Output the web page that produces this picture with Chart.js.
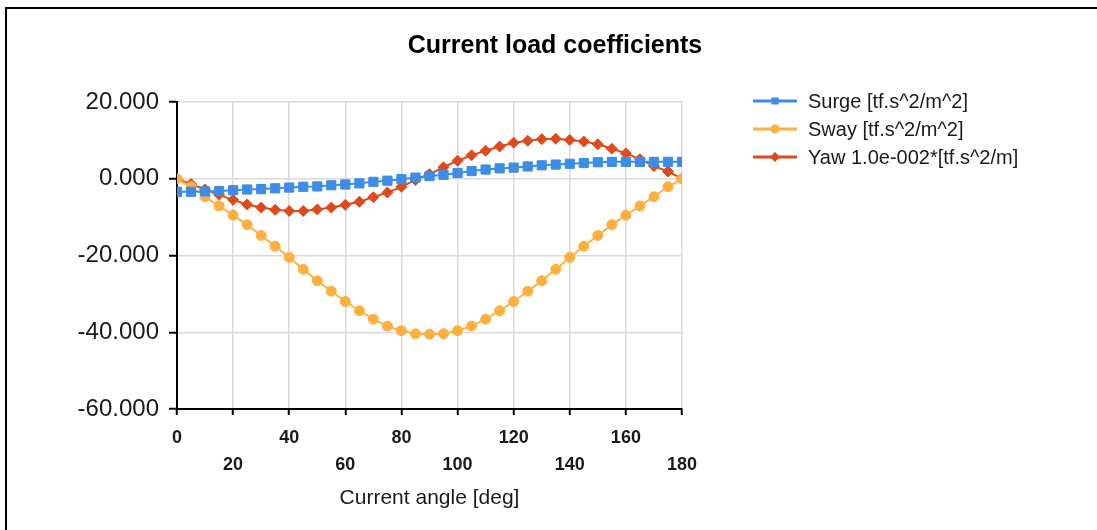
<!DOCTYPE html>
<html>
<head>
<meta charset="utf-8">
<script src="https://cdn.jsdelivr.net/npm/chart.js@4.4.0/dist/chart.umd.min.js"></script>
<style>
   html, body { margin: 0; padding: 0; background: #fff; overflow: hidden; }
   .wrap { position: relative; width: 1097px; height: 530px; }
   .frame { position: absolute; left: 5px; top: 7px; width: 1200px; height: 700px; border: 2px solid #000; box-sizing: border-box; pointer-events: none; }
   canvas { position: absolute; left: 0; top: 0; }
</style>
</head>
<body>
<div class="wrap">
   <canvas id="coef-chart" width="1097" height="530"></canvas>
   <div class="frame"></div>
</div>
<script>
// angles, deg
const angles = [0, 5, 10, 15, 20, 25, 30, 35, 40, 45, 50, 55, 60, 65, 70, 75, 80, 85, 90,
   95, 100, 105, 110, 115, 120, 125, 130, 135, 140, 145, 150, 155, 160, 165, 170, 175, 180];

// Surge [tf.s^2/m^2]
const surge = [-3.4, -3.4, -3.3, -3.2, -3.0, -2.8, -2.7, -2.5, -2.3, -2.1, -2.0, -1.7, -1.5, -1.2, -0.8, -0.5, -0.1, 0.3, 0.7,
   1.0, 1.5, 2.0, 2.4, 2.7, 2.9, 3.2, 3.5, 3.7, 3.9, 4.1, 4.3, 4.4, 4.4, 4.4, 4.4, 4.4, 4.4];

// Sway [tf.s^2/m^2]
const sway = [0, -2.1, -4.7, -7.1, -9.5, -12.0, -14.8, -17.6, -20.5, -23.6, -26.6, -29.3, -32.0, -34.4, -36.6, -38.4, -39.6, -40.4, -40.5,
   -40.4, -39.6, -38.4, -36.6, -34.4, -32.0, -29.3, -26.6, -23.6, -20.5, -17.6, -14.8, -12.0, -9.5, -7.1, -4.7, -2.1, 0];

// Yaw 1.0e-002*[tf.s^2/m]
const yaw = [0, -1.4, -2.8, -4.2, -5.5, -6.7, -7.5, -8.1, -8.4, -8.4, -8.0, -7.5, -6.8, -6.0, -4.8, -3.6, -2.1, -0.3, 1.2,
   3.0, 4.7, 6.1, 7.3, 8.4, 9.4, 9.9, 10.3, 10.4, 10.1, 9.7, 9.0, 7.8, 6.6, 5.1, 3.3, 1.9, 0];

const seriesNames = ['Surge [tf.s^2/m^2]', 'Sway [tf.s^2/m^2]', 'Yaw 1.0e-002*[tf.s^2/m]'];
const xTicks = [0, 20, 40, 60, 80, 100, 120, 140, 160, 180];
const yTicks = [20, 0, -20, -40, -60];

const FONT = "'Liberation Sans', Arial, sans-serif";

function toPoints(values) {
   return values.map((v, i) => ({ x: angles[i], y: v }));
}

// title + legend drawn by hand
const extras = {
   id: 'extras',
   afterDraw(chart) {
      const ctx = chart.ctx;
      ctx.save();
      ctx.fillStyle = '#000';
      ctx.font = 'bold 25px ' + FONT;
      ctx.textAlign = 'center';
      ctx.textBaseline = 'middle';
      ctx.fillText('Current load coefficients', 555, 46);

      ctx.font = '20px ' + FONT;
      ctx.textAlign = 'left';
      chart.data.datasets.forEach((ds, i) => {
         const y = 101 + i * 28;
         ctx.strokeStyle = ds.borderColor;
         ctx.lineWidth = 3;
         ctx.beginPath();
         ctx.moveTo(753, y);
         ctx.lineTo(797, y);
         ctx.stroke();
         Chart.helpers.drawPoint(ctx, {
            pointStyle: ds.pointStyle,
            radius: 3,
            borderWidth: 1,
            rotation: 0
         }, 775, y);
         ctx.fillStyle = ds.borderColor;
         ctx.fill();
         ctx.fillStyle = '#1a1a1a';
         ctx.fillText(seriesNames[i], 808, y + 1);
      });
      ctx.restore();
   }
};

const ctx = document.getElementById('coef-chart').getContext('2d');

new Chart(ctx, {
   type: 'line',
   data: {
      datasets: [
         {
            label: seriesNames[0],
            data: toPoints(surge),
            borderColor: '#3d8de8',
            backgroundColor: '#3d8de8',
            borderWidth: 2,
            pointStyle: 'rect',
            pointRadius: 6.5,
            pointBorderWidth: 1,
         },
         {
            label: seriesNames[1],
            data: toPoints(sway),
            borderColor: '#fdb03f',
            backgroundColor: '#fdb03f',
            borderWidth: 2,
            pointStyle: 'circle',
            pointRadius: 5,
            pointBorderWidth: 1,
         },
         {
            label: seriesNames[2],
            data: toPoints(yaw),
            borderColor: '#df4a1c',
            backgroundColor: '#df4a1c',
            borderWidth: 2,
            pointStyle: 'rectRot',
            pointRadius: 5.5,
            pointBorderWidth: 1,
         },
      ],
   },
   options: {
      responsive: false,
      animation: false,
      layout: {
         padding: { left: 0, top: 102, right: 415, bottom: 0 },
      },
      scales: {
         x: {
            type: 'linear',
            min: 0,
            max: 180,
            afterBuildTicks: (scale) => {
               scale.ticks = xTicks.map(v => ({ value: v }));
            },
            afterFit: (scale) => { scale.height = 121; },
            grid: {
               color: '#dadada',
               lineWidth: 1.5,
               tickColor: '#000',
               tickWidth: 2,
               tickLength: 6,
            },
            border: { color: '#000', width: 2 },
            ticks: {
               autoSkip: false,
               maxRotation: 0,
               padding: 10,
               color: '#1a1a1a',
               font: { family: FONT, size: 18, weight: 'bold', lineHeight: 1.5 },
               callback: function (value, index) {
                  return index % 2 === 1 ? ['', String(value)] : String(value);
               },
            },
            title: {
               display: true,
               text: 'Current angle [deg]',
               color: '#1a1a1a',
               font: { family: FONT, size: 21 },
               padding: { top: 0, bottom: 19 },
            },
         },
         y: {
            min: -60,
            max: 20,
            afterBuildTicks: (scale) => {
               scale.ticks = yTicks.map(v => ({ value: v }));
            },
            afterFit: (scale) => { scale.width = 177; },
            grid: {
               color: '#dadada',
               lineWidth: 1.5,
               tickColor: '#000',
               tickWidth: 2,
               tickLength: 8,
            },
            border: { color: '#000', width: 2 },
            ticks: {
               padding: 10,
               color: '#1a1a1a',
               font: { family: FONT, size: 24 },
               callback: function (value) {
                  return value.toFixed(3);
               },
            },
         },
      },
      plugins: {
         legend: false,
         title: false,
         tooltip: false,
      },
   },
   plugins: [extras],
});
</script>
</body>
</html>
